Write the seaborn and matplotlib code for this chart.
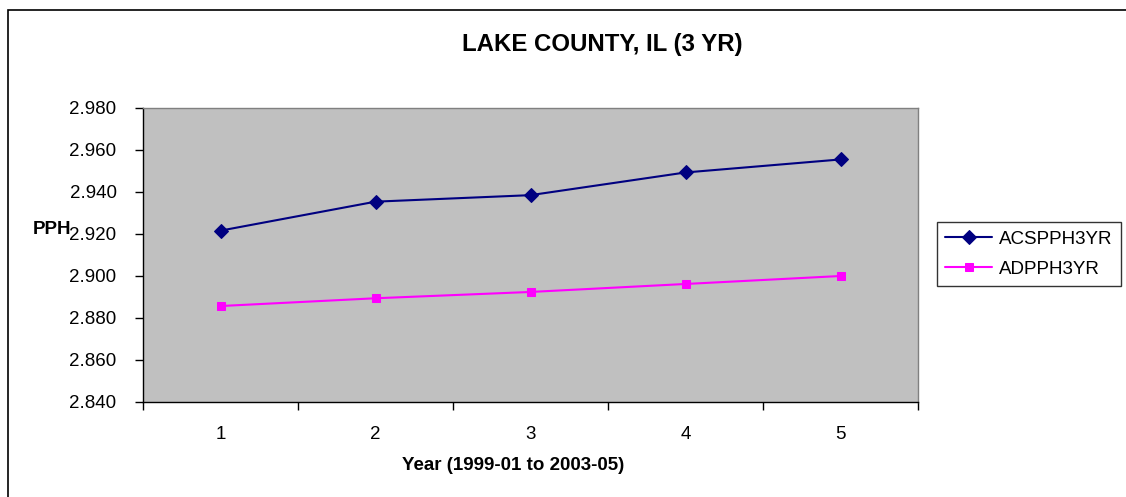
import matplotlib
matplotlib.use("Agg")
import matplotlib.pyplot as plt
from matplotlib.patches import Rectangle
from matplotlib.ticker import FixedLocator, FuncFormatter
import seaborn as sns
import pandas as pd

# Data
years = [1, 2, 3, 4, 5]
acspph3yr = [2.9216, 2.9354, 2.9385, 2.9493, 2.9555]
adpph3yr = [2.8857, 2.8894, 2.8924, 2.8962, 2.9000]
series_names = ["ACSPPH3YR", "ADPPH3YR"]
y_ticks = [2.840, 2.860, 2.880, 2.900, 2.920, 2.940, 2.960, 2.980]

df = pd.DataFrame({
    "Year": years * 2,
    "PPH": acspph3yr + adpph3yr,
    "Series": [series_names[0]] * len(years) + [series_names[1]] * len(years),
})

sns.set_theme(style="white")
plt.rcParams["font.family"] = ["Liberation Sans", "DejaVu Sans"]
plt.rcParams["text.color"] = "black"
plt.rcParams["xtick.color"] = "black"
plt.rcParams["ytick.color"] = "black"

W, H = 1126, 497
fig = plt.figure(figsize=(W / 100, H / 100), dpi=100)
fig.patch.set_facecolor("white")

# outer chart frame
fig.patches.append(Rectangle((8 / W, -0.05), 1.2, 1 - 10 / H + 0.05,
                             transform=fig.transFigure, fill=False,
                             edgecolor="black", linewidth=1.2, zorder=0))

left, right, top, bottom = 143 / W, 918 / W, 108 / H, 402 / H
ax = fig.add_axes([left, 1 - bottom, right - left, bottom - top])
ax.set_facecolor("#c0c0c0")

palette = {series_names[0]: "#000080", series_names[1]: "#ff00ff"}
markers = {series_names[0]: "D", series_names[1]: "s"}
sizes = {series_names[0]: 7.5, series_names[1]: 6}

for name in series_names:
    sub = df[df["Series"] == name]
    sns.lineplot(data=sub, x="Year", y="PPH", ax=ax, color=palette[name],
                 marker=markers[name], markersize=sizes[name],
                 markeredgecolor=palette[name], linewidth=1.5, label=name,
                 legend=False)

ax.set_xlim(0.5, 5.5)
ax.set_ylim(2.840, 2.980)

FS = 13.5

# category labels at bin centres, tick marks at bin boundaries
ax.xaxis.set_major_locator(FixedLocator(years))
ax.set_xticklabels([str(y) for y in years])
ax.xaxis.set_minor_locator(FixedLocator([y + 0.5 for y in [0] + years]))
ax.tick_params(axis="x", which="major", length=0, pad=17, labelsize=FS)
ax.tick_params(axis="x", which="minor", length=6, width=1, color="black",
               direction="out", bottom=True)
ax.yaxis.set_major_locator(FixedLocator(y_ticks))
ax.yaxis.set_major_formatter(FuncFormatter(lambda v, p: f"{v:.3f}"))
ax.tick_params(axis="y", which="major", length=6, width=1, color="black",
               direction="out", left=True, pad=13, labelsize=FS)

for side, sp in ax.spines.items():
    sp.set_visible(True)
    sp.set_color("#808080" if side in ("top", "right") else "black")
    sp.set_linewidth(1.0)

ax.set_xlabel("")
ax.set_ylabel("")

fig.text(602 / W, 1 - 45 / H, "LAKE COUNTY, IL (3 YR)", ha="center",
         va="center", fontsize=17.3, fontweight="bold")
fig.text(513 / W, 1 - 466 / H, "Year (1999-01 to 2003-05)", ha="center",
         va="center", fontsize=FS, fontweight="bold")
fig.text(33 / W, 1 - 229 / H, "PPH", ha="left", va="center",
         fontsize=FS, fontweight="bold")

handles, labels = ax.get_legend_handles_labels()
leg = fig.legend(handles, labels, loc="upper left",
                 bbox_to_anchor=(937 / W, 1 - 222 / H), frameon=True,
                 fancybox=False, fontsize=FS, handlelength=2.5,
                 borderpad=0.45, labelspacing=0.7, handletextpad=0.35,
                 borderaxespad=0)
leg.get_frame().set_edgecolor("black")
leg.get_frame().set_linewidth(1.0)

fig.savefig("out.png", dpi=100, facecolor="white")
